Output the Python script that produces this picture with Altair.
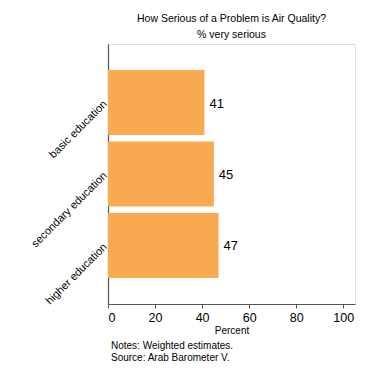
import altair as alt
import pandas as pd

categories = ["basic education", "secondary education", "higher education"]
values = [41, 45, 47]
notes = ["Notes: Weighted estimates.", "Source: Arab Barometer V."]
x_ticks = [0, 20, 40, 60, 80, 100]

df = pd.DataFrame({"edu": categories, "pct": values})
FONT = "Liberation Sans"

y_enc = alt.Y(
    "edu:N",
    sort=categories,
    title=None,
    scale=alt.Scale(paddingInner=0.09, paddingOuter=0.364),
    axis=alt.Axis(
        labelAngle=315,
        labelAlign="right",
        labelBaseline="middle",
        ticks=False,
        labelPadding=3,
        labelFontSize=11,
        labelColor="black",
        labelFont=FONT,
        domainColor="#555555",
        domainWidth=1.2,
    ),
)
x_enc = alt.X(
    "pct:Q",
    title="Percent",
    scale=alt.Scale(domain=[0, 105], nice=False),
    axis=alt.Axis(
        values=x_ticks,
        grid=False,
        tickSize=4,
        tickColor="#555555",
        labelPadding=3,
        labelFontSize=12.5,
        labelColor="black",
        labelFont=FONT,
        titleFont=FONT,
        titleFontSize=10,
        titleFontWeight="normal",
        titleColor="black",
        titlePadding=2,
        domainColor="#555555",
        domainWidth=1.2,
    ),
)

base = alt.Chart(df)
bars = base.mark_bar(color="#F9A94F").encode(x=x_enc, y=y_enc)
labels = base.mark_text(align="left", baseline="middle", dx=5, dy=1, fontSize=13, font=FONT, color="black").encode(
    x="pct:Q", y=alt.Y("edu:N", sort=categories), text="pct:Q"
)
notes_layer = alt.Chart(pd.DataFrame({"t": ["\n".join(notes)]})).mark_text(
    align="left", baseline="top", lineBreak="\n", lineHeight=11.5, fontSize=10, font=FONT, color="black"
).encode(x=alt.value(3), y=alt.value(297), text="t:N")

chart = (
    alt.layer(bars, labels, notes_layer)
    .properties(
        width=247,
        height=260,
        autosize=alt.AutoSizeParams(type="none"),
        padding={"left": 108, "top": 44, "right": 22, "bottom": 73},
        title=alt.TitleParams(
            text="How Serious of a Problem is Air Quality?",
            subtitle="% very serious",
            fontSize=10.5,
            subtitleFontSize=10.5,
            fontWeight="normal",
            font=FONT,
            subtitleFont=FONT,
            color="black",
            subtitleColor="black",
            anchor="middle",
            offset=4,
            subtitlePadding=5,
        ),
    )
    .configure_view(stroke="#777777", strokeWidth=1.2)
    .configure(background="white")
)

chart.save("out.html", embed_options={"renderer": "svg", "actions": False})
